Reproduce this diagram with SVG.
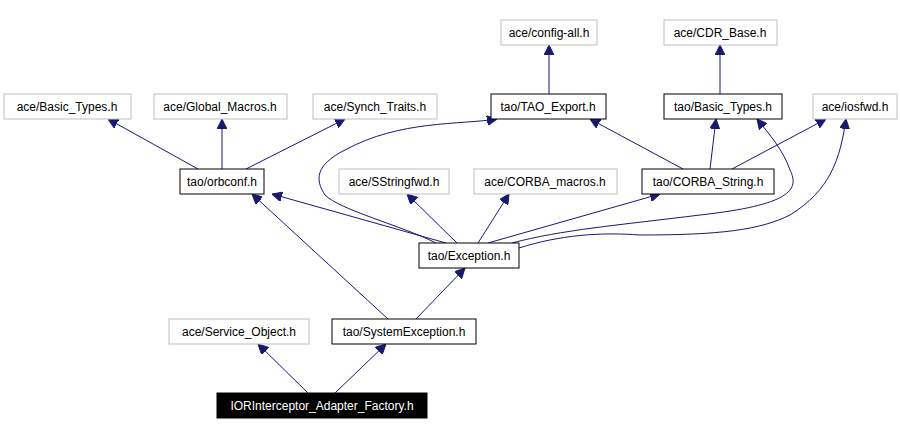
<svg xmlns="http://www.w3.org/2000/svg" width="900" height="435" viewBox="0 0 900 435">
<style>
.n rect{fill:#fff;stroke:#000;stroke-width:1}
.g rect{fill:#fff;stroke:#bfbfbf;stroke-width:1}
text{font-family:"Liberation Sans",Arial,sans-serif;font-size:12px;text-anchor:middle}
.e path{fill:none;stroke:#191970;stroke-width:1;marker-end:url(#a)}
</style>
<defs><marker id="a" viewBox="0 0 10 10" refX="10" refY="5" markerWidth="10" markerHeight="10" markerUnits="userSpaceOnUse" orient="auto"><path d="M0,0L10,5L0,10z" fill="#191970" stroke="#191970"/></marker></defs>
<rect width="900" height="435" fill="#fff"/>
<g class="e">
<path d="M549,94L549,45"/>
<path d="M720,94L720,45"/>
<path d="M198,169L108,119"/>
<path d="M222,169L222,119"/>
<path d="M246,169L345,119"/>
<path d="M683,169L590,119"/>
<path d="M710,169L716,119"/>
<path d="M732,169L826,119"/>
<path d="M446,243L272,194"/>
<path d="M436,243C400,225 340,210 325,195C315,180 315,165 345,150C400,120 460,125 497,119"/>
<path d="M457,243L407,194"/>
<path d="M478,243L509,194"/>
<path d="M488,243L660,194"/>
<path d="M512,243C560,230 620,225 700,215C790,205 800,190 790,170C783,150 770,135 757,119"/>
<path d="M519,248C560,235 600,232 640,235C720,235 760,230 790,215C830,190 840,160 846,119"/>
<path d="M388,319L252,194"/>
<path d="M416,319L465,268"/>
<path d="M308,393L258,344"/>
<path d="M335,393L386,344"/>
</g>
<g id="config" class="g"><rect x="501" y="20" width="96" height="25"/><text x="549" y="37">ace/config-all.h</text></g>
<g id="cdrbase" class="g"><rect x="664" y="20" width="113" height="25"/><text x="720" y="37">ace/CDR_Base.h</text></g>
<g id="acebasic" class="g"><rect x="4" y="94" width="127" height="25"/><text x="67" y="111">ace/Basic_Types.h</text></g>
<g id="globalmacros" class="g"><rect x="154" y="94" width="133" height="25"/><text x="220" y="111">ace/Global_Macros.h</text></g>
<g id="synch" class="g"><rect x="313" y="94" width="124" height="25"/><text x="375" y="111">ace/Synch_Traits.h</text></g>
<g id="taoexport" class="n"><rect x="491" y="94" width="115" height="25"/><text x="548" y="111">tao/TAO_Export.h</text></g>
<g id="taobasic" class="n"><rect x="664" y="94" width="118" height="25"/><text x="723" y="111">tao/Basic_Types.h</text></g>
<g id="iosfwd" class="g"><rect x="813" y="94" width="84" height="25"/><text x="855" y="111">ace/iosfwd.h</text></g>
<g id="orbconf" class="n"><rect x="180" y="169" width="84" height="25"/><text x="222" y="186">tao/orbconf.h</text></g>
<g id="sstring" class="g"><rect x="339" y="169" width="110" height="25"/><text x="394" y="186">ace/SStringfwd.h</text></g>
<g id="corbamacros" class="g"><rect x="474" y="169" width="143" height="25"/><text x="545" y="186">ace/CORBA_macros.h</text></g>
<g id="corbastring" class="n"><rect x="642" y="169" width="132" height="25"/><text x="708" y="186">tao/CORBA_String.h</text></g>
<g id="exception" class="n"><rect x="419" y="243" width="100" height="25"/><text x="469" y="260">tao/Exception.h</text></g>
<g id="serviceobj" class="g"><rect x="169" y="319" width="140" height="25"/><text x="239" y="336">ace/Service_Object.h</text></g>
<g id="sysexc" class="n"><rect x="332" y="319" width="144" height="25"/><text x="404" y="336">tao/SystemException.h</text></g>
<g id="ior"><rect x="217" y="393" width="210" height="25" fill="#000" stroke="#000"/><text x="322" y="410" fill="#fff">IORInterceptor_Adapter_Factory.h</text></g>
</svg>
